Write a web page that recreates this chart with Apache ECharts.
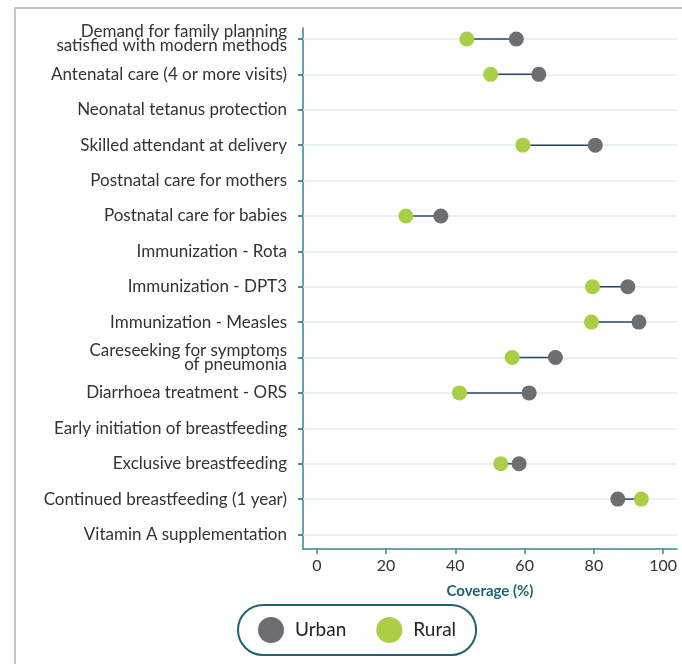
<!DOCTYPE html>
<html>
<head>
<meta charset="utf-8">
<script src="https://cdn.jsdelivr.net/npm/echarts@6/dist/echarts.min.js"></script>
<style>
  html, body { margin: 0; padding: 0; background: #fff; }
  #chart { width: 682px; height: 664px; }
</style>
</head>
<body>
<div id="chart"></div>
<script>
  const categories = [
    'Demand for family planning\nsatisfied with modern methods',
    'Antenatal care (4 or more visits)',
    'Neonatal tetanus protection',
    'Skilled attendant at delivery',
    'Postnatal care for mothers',
    'Postnatal care for babies',
    'Immunization - Rota',
    'Immunization - DPT3',
    'Immunization - Measles',
    'Careseeking for symptoms\nof pneumonia',
    'Diarrhoea treatment - ORS',
    'Early initiation of breastfeeding',
    'Exclusive breastfeeding',
    'Continued breastfeeding (1 year)',
    'Vitamin A supplementation'
  ]
  const urban = [57.6, 64.1, null, 80.4, null, 35.8, null, 89.8, 93.0, 68.9, 61.3, null, 58.4, 86.9, null]
  const rural = [43.3, 50.2, null, 59.5, null, 25.7, null, 79.6, 79.3, 56.4, 41.2, null, 53.1, 93.7, null]
  const xTicks = [0, 20, 40, 60, 80, 100]

  const font = 'Lato, "Open Sans", sans-serif'
  const teal = '#3a8290'
  const urbanColor = '#6d6e71'
  const ruralColor = '#a8cf45'

  const chart = echarts.init(document.getElementById('chart'))

  const catIdx = categories.map((c, i) => i)
  // [rural, urban, index] for rows that have both values
  const pairs = []
  catIdx.forEach(i => {
    if (urban[i] != null && rural[i] != null) pairs.push([rural[i], urban[i], i])
  })

  chart.setOption({
    animation: false,
    textStyle: { fontFamily: font },
    graphic: [{
      type: 'rect',
      shape: { x: 15, y: 8, width: 700, height: 700 },
      style: { fill: 'none', stroke: '#b4b4b4', lineWidth: 1.5 },
      silent: true
    }],
    grid: { left: 303, right: 5, top: 28, bottom: 115 },
    legend: {
      data: ['Urban', 'Rural'],
      left: 238,
      top: 605,
      icon: 'circle',
      itemWidth: 26,
      itemHeight: 26,
      itemGap: 30,
      padding: [12, 20, 12, 20],
      borderColor: '#1d6473',
      borderWidth: 2,
      borderRadius: 26,
      textStyle: { fontSize: 19, color: '#222', fontFamily: font, padding: [0, 0, 0, 6] }
    },
    xAxis: {
      type: 'value',
      min: -4,
      max: 104,
      name: 'Coverage (%)',
      nameLocation: 'middle',
      nameGap: 35,
      nameTextStyle: { color: '#1d6473', fontWeight: 'bold', fontSize: 15, fontFamily: font },
      axisLine: { show: true, onZero: false, lineStyle: { color: teal, width: 1.5 } },
      axisTick: { show: true, customValues: xTicks, length: 5, lineStyle: { color: teal, width: 1.5 } },
      axisLabel: { customValues: xTicks, color: '#333', fontSize: 16, margin: 9 },
      splitLine: { show: false }
    },
    yAxis: {
      type: 'value',
      inverse: true,
      min: -0.31,
      max: 14.41,
      axisLine: { show: true, onZero: false, lineStyle: { color: teal, width: 1.5 } },
      axisTick: { show: true, customValues: catIdx, length: 5, lineStyle: { color: '#1d6473', width: 1.5 } },
      axisLabel: {
        customValues: catIdx,
        formatter: v => categories[v],
        color: '#333',
        fontSize: 17,
        lineHeight: 14,
        align: 'right',
        margin: 16
      },
      splitLine: { show: false }
    },
    series: [
      {
        // horizontal guide lines at each category
        type: 'scatter',
        data: [],
        silent: true,
        z: 1,
        markLine: {
          z: 1,
          silent: true,
          symbol: 'none',
          label: { show: false },
          lineStyle: { color: '#e1ebf0', width: 1.5, type: 'solid' },
          data: catIdx.map(i => ({ yAxis: i }))
        }
      },
      {
        type: 'custom',
        data: pairs,
        silent: true,
        z: 2,
        encode: { x: [0, 1], y: 2 },
        renderItem: (params, api) => {
          const a = api.coord([api.value(0), api.value(2)])
          const b = api.coord([api.value(1), api.value(2)])
          return {
            type: 'line',
            shape: { x1: a[0], y1: a[1], x2: b[0], y2: b[1] },
            style: { stroke: '#24496b', lineWidth: 1.5 }
          }
        }
      },
      {
        name: 'Rural',
        type: 'scatter',
        data: rural.map((v, i) => [v, i]),
        symbolSize: 15,
        itemStyle: { color: ruralColor, opacity: 1 },
        z: 3
      },
      {
        name: 'Urban',
        type: 'scatter',
        data: urban.map((v, i) => [v, i]),
        symbolSize: 15,
        itemStyle: { color: urbanColor, opacity: 1 },
        z: 4
      }
    ]
  })
</script>
</body>
</html>
